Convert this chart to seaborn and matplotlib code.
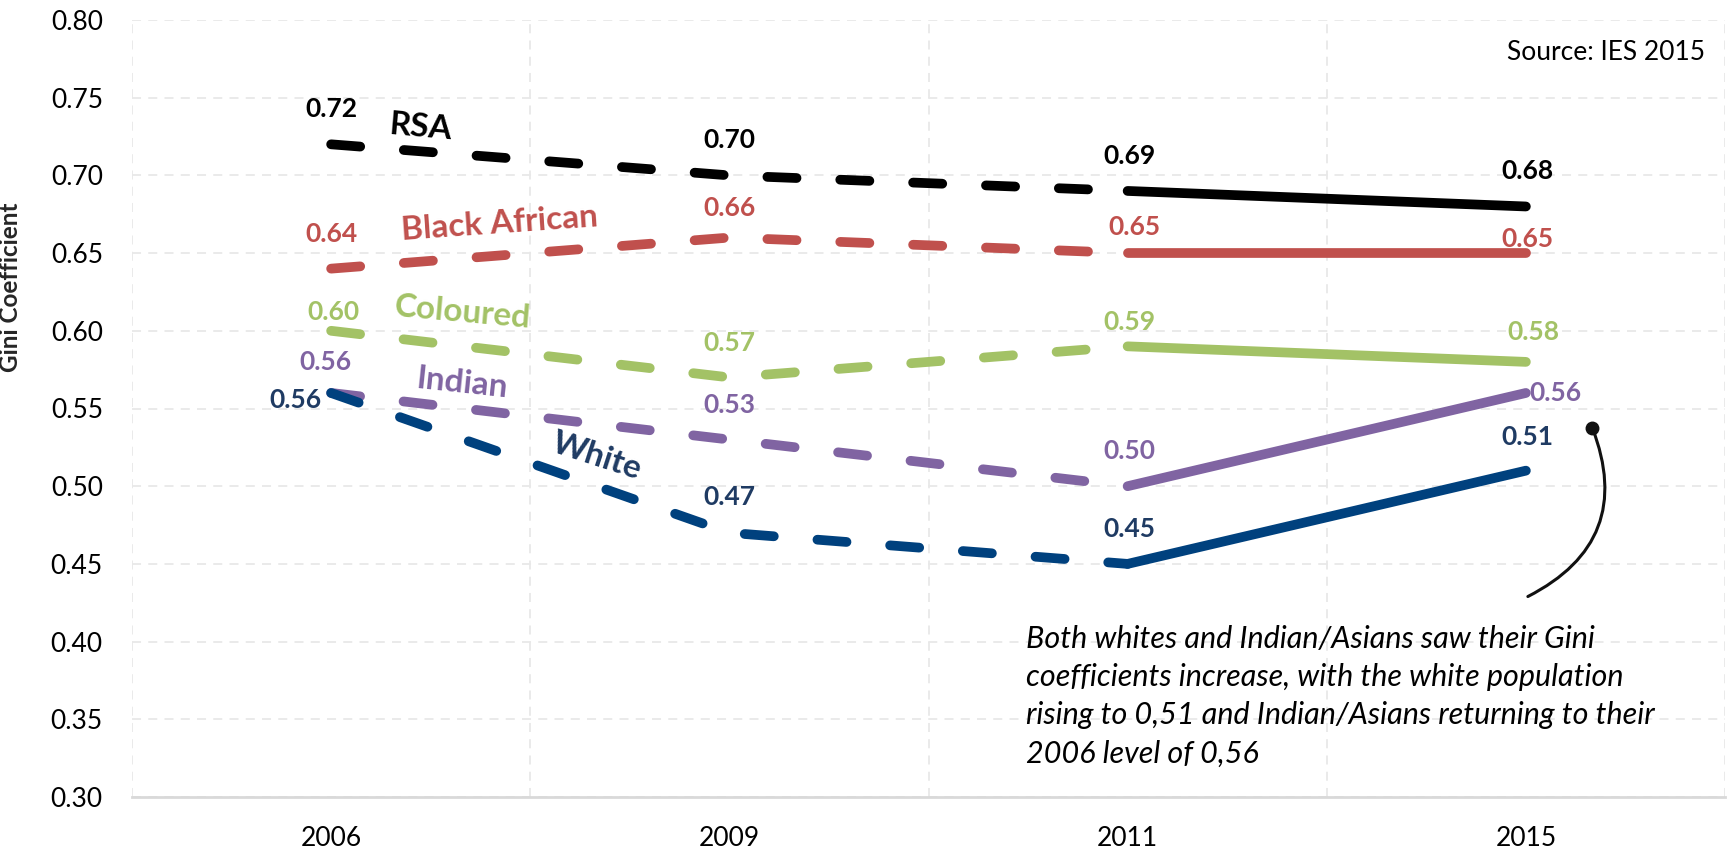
import numpy as np
import pandas as pd
import matplotlib
matplotlib.use("Agg")
import matplotlib.pyplot as plt
import seaborn as sns

# ---- data -------------------------------------------------------------
years = ["2006", "2009", "2011", "2015"]
groups = ["RSA", "Black African", "Coloured", "Indian", "White"]
rsa = [0.72, 0.70, 0.69, 0.68]
black_african = [0.64, 0.66, 0.65, 0.65]
coloured = [0.60, 0.57, 0.59, 0.58]
indian = [0.56, 0.53, 0.50, 0.56]
white = [0.56, 0.47, 0.45, 0.51]
y_ticks = [0.30, 0.35, 0.40, 0.45, 0.50, 0.55, 0.60, 0.65, 0.70, 0.75, 0.80]
source_note = "Source: IES 2015"
note = ("Both whites and Indian/Asians saw their Gini\n"
        "coefficients increase, with the white population\n"
        "rising to 0,51 and Indian/Asians returning to their\n"
        "2006 level of 0,56")

series = dict(zip(groups, [rsa, black_african, coloured, indian, white]))

# ---- styling ----------------------------------------------------------
sns.set_theme(style="white")
plt.rcParams["font.family"] = ["Lato", "DejaVu Sans"]

line_colors = {"RSA": "#000000", "Black African": "#C0504D",
               "Coloured": "#A3C266", "Indian": "#8064A2", "White": "#00417E"}
text_colors = {"RSA": "#000000", "Black African": "#C0504D",
               "Coloured": "#A3C266", "Indian": "#8064A2", "White": "#1F3B63"}

# value-label offsets in pixels (dx, dy, ha)
label_offsets = {
    "RSA": [(0, 35, "center"), (0, 35, "center"), (2, 35, "center"), (2, 35, "center")],
    "Black African": [(0, 35, "center"), (0, 30, "center"), (7, 26, "center"), (2, 14, "center")],
    "Coloured": [(2, 19, "center"), (0, 34, "center"), (2, 24, "center"), (8, 30, "center")],
    "Indian": [(-6, 31, "center"), (0, 35, "center"), (2, 35, "center"), (4, 0, "left")],
    "White": [(-10, -7, "right"), (0, 36, "center"), (2, 35, "center"), (2, 34, "center")],
}
# series name labels: (x, y, rotation)
name_pos = {
    "RSA": (0.224, 0.731, -5),
    "Black African": (0.422, 0.669, 4),
    "Coloured": (0.329, 0.612, -5),
    "Indian": (0.329, 0.566, -6),
    "White": (0.668, 0.519, -18),
}

pos = np.arange(len(years))
rows = []
for g, vals in series.items():
    for i, v in enumerate(vals):
        rows.append({"group": g, "pos": pos[i], "year": years[i], "gini": v})
df = pd.DataFrame(rows)
dashed_df = df[df["pos"] <= 2]
solid_df = df[df["pos"] >= 2]

fig = plt.figure(figsize=(17.30, 8.49), dpi=100)
ax = fig.add_axes([132 / 1730, 1 - 797 / 849, 1593 / 1730, 777 / 849])

lw = 7.0
sns.lineplot(data=dashed_df, x="pos", y="gini", hue="group", hue_order=groups,
             palette=line_colors, legend=False, linewidth=lw, ax=ax,
             linestyle=(0, (3.0, 4.5)), dash_capstyle="round", sort=True)
sns.lineplot(data=solid_df, x="pos", y="gini", hue="group", hue_order=groups,
             palette=line_colors, legend=False, linewidth=lw, ax=ax,
             solid_capstyle="round", sort=True)

# value labels
px = 0.72  # points per pixel at 100 dpi
for g, vals in series.items():
    for i, v in enumerate(vals):
        dx, dy, ha = label_offsets[g][i]
        ax.annotate(f"{v:.2f}", xy=(pos[i], v), xytext=(dx * px, dy * px),
                    textcoords="offset points", ha=ha, va="center",
                    fontsize=19, fontweight="bold", color=text_colors[g])

# series names
for g, (x, y, rot) in name_pos.items():
    ax.text(x, y, g, ha="center", va="center", rotation=rot,
            fontsize=24, fontweight="bold", color=text_colors[g],
            rotation_mode="anchor")

# source note and commentary
ax.text(3.45, 0.779, source_note, ha="right", va="center", fontsize=19,
        color="#000000")
ax.text(1.744, 0.411, note, ha="left", va="top", fontsize=22,
        style="italic", color="#000000", linespacing=1.45)
ax.annotate("", xy=(3.167, 0.5375), xytext=(3.005, 0.429),
            arrowprops=dict(arrowstyle="-", color="#111111", lw=2.2,
                            shrinkA=0, shrinkB=0,
                            connectionstyle="arc3,rad=0.45"))
ax.plot([3.167], [0.5375], marker="o", markersize=9, color="#111111")

# axes
ax.set_xlim(-0.5, 3.5)
ax.set_ylim(0.30, 0.80)
ax.set_xticks(pos)
ax.set_xticklabels(years)
ax.set_xticks(np.arange(-0.5, 3.6, 1.0), minor=True)
ax.set_yticks(y_ticks)
ax.set_yticklabels([f"{t:.2f}" for t in y_ticks])
ax.tick_params(axis="both", which="both", length=0, labelsize=19,
               colors="#000000")
ax.tick_params(axis="y", pad=21)
ax.tick_params(axis="x", pad=21)
ax.set_xlabel("")
ax.set_ylabel("Gini Coefficient", fontsize=17.5, fontweight="bold")
ax.yaxis.set_label_coords(-0.069, 0.656)

ax.grid(False)
ax.grid(True, axis="y", which="major", color="#E8E8E8", linestyle=(0, (5, 4)),
        linewidth=1.3)
ax.grid(True, axis="x", which="minor", color="#E8E8E8", linestyle=(0, (5, 4)),
        linewidth=1.3)
ax.set_axisbelow(True)
for s in ["left", "right", "top"]:
    ax.spines[s].set_visible(False)
ax.spines["bottom"].set_color("#D9D9D9")
ax.spines["bottom"].set_linewidth(2)

fig.savefig("out.png", dpi=100, facecolor="white")
